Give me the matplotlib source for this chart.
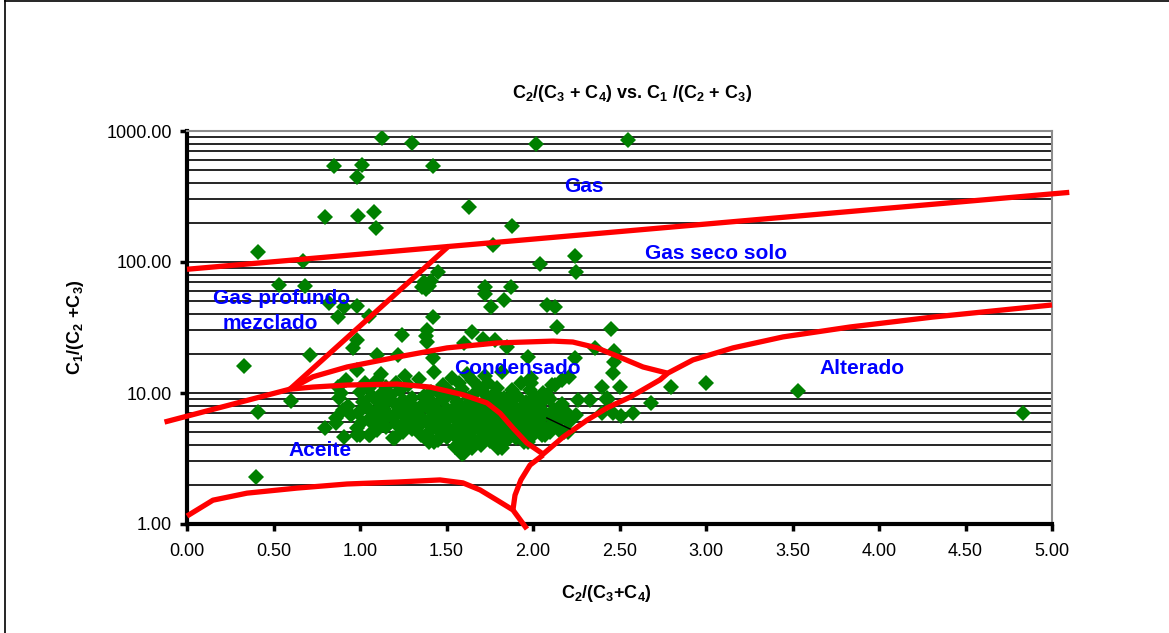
import matplotlib.pyplot as plt
from matplotlib.ticker import LogLocator, FormatStrFormatter, MultipleLocator
from matplotlib.lines import Line2D

plt.rcParams['font.family'] = ['Liberation Sans', 'DejaVu Sans']
plt.rcParams['mathtext.fontset'] = 'custom'
plt.rcParams['mathtext.rm'] = 'Liberation Sans'
plt.rcParams['mathtext.bf'] = 'Liberation Sans:bold'

# samples: C2/(C3+C4) vs C1/(C2+C3)
# scattered samples
x_ratio = [1.13, 1.30, 2.02, 2.55, 0.85, 1.01, 0.98, 1.42, 0.80, 0.99, 1.08, 1.09, 1.63, 1.88,
           0.41, 0.67, 1.77, 2.24, 2.25, 2.04, 1.45, 0.53, 0.68, 1.37, 1.40, 1.38, 1.41, 1.36,
           1.72, 1.72, 1.87, 1.83, 1.76, 2.08, 2.13, 0.82, 0.87, 0.91, 0.71, 0.33, 0.98, 1.05,
           1.42, 1.39, 1.39, 1.38, 1.24, 0.98, 0.96, 1.65, 1.71, 1.78, 1.60, 1.85, 1.10, 1.22,
           1.42, 0.98, 2.14, 2.45, 2.36, 2.47, 1.97, 2.24, 2.47, 2.46, 1.99, 2.21, 2.17, 2.40,
           2.50, 2.80, 3.00, 3.53, 4.83, 2.43, 2.68, 2.51, 2.58, 2.46, 2.40, 0.60, 0.41, 0.40,
           0.80, 0.86, 0.91, 0.90, 0.88, 0.87, 1.82, 1.59, 1.19, 1.06, 0.98, 1.43, 1.50, 1.56,
           1.99, 2.13, 2.26, 2.33, 2.43, 2.25, 1.97, 2.08, 2.12, 1.94, 2.07, 2.18, 1.97]
y_ratio = [880, 810, 800, 850, 540, 550, 445, 545, 220, 225, 240, 182, 262, 188,
           119, 102, 135, 111, 84, 97, 84, 67, 66, 70, 66, 62, 72, 64,
           64, 57, 64, 51, 45, 47, 45, 49, 38, 45, 19.5, 16, 46, 39,
           38, 30, 24.5, 27, 27.7, 25.5, 22, 29, 26, 25.4, 24, 22.4, 19.5, 19.5,
           18.5, 15, 32, 31, 22, 21, 18.8, 18.5, 17.2, 14.2, 13, 13.3, 12.6, 11.1,
           11.1, 11.1, 11.9, 10.4, 7.0, 9.2, 8.4, 6.7, 7.0, 7.0, 7.0, 8.7, 7.2, 2.28,
           5.4, 5.9, 4.6, 7.4, 9.2, 11.1, 3.8, 3.4, 4.5, 4.8, 4.8, 4.2, 4.6, 3.9,
           11.9, 11.5, 8.8, 8.8, 8.8, 6.8, 8.4, 9.6, 7.4, 5.9, 4.8, 5.0, 4.2]

# dense cluster
x_cluster = [0.86, 0.93, 0.89, 0.95, 0.92,
             1.00, 1.01, 0.99, 1.02, 1.00, 1.03, 0.98,
             1.05, 1.06, 1.04, 1.07, 1.05, 1.08,
             1.10, 1.12, 1.09, 1.11, 1.13, 1.10, 1.12,
             1.15, 1.16, 1.14, 1.17, 1.15,
             1.20, 1.21, 1.19, 1.22, 1.20, 1.18, 1.21,
             1.25, 1.26, 1.24, 1.27, 1.25, 1.23, 1.26,
             1.30, 1.31, 1.29, 1.32, 1.30, 1.28,
             1.35, 1.34, 1.36, 1.33, 1.35, 1.37, 1.34,
             1.40, 1.41, 1.39, 1.42, 1.40, 1.38, 1.41, 1.43,
             1.45, 1.46, 1.44, 1.47, 1.45, 1.43, 1.46, 1.48,
             1.50, 1.51, 1.49, 1.52, 1.50, 1.48, 1.51, 1.53,
             1.55, 1.56, 1.54, 1.57, 1.55, 1.53, 1.56, 1.54, 1.57,
             1.60, 1.61, 1.59, 1.62, 1.60, 1.58, 1.61, 1.63, 1.59, 1.62,
             1.65, 1.66, 1.64, 1.67, 1.65, 1.63, 1.66, 1.64, 1.67, 1.65,
             1.70, 1.71, 1.69, 1.72, 1.70, 1.68, 1.71, 1.73, 1.69, 1.72,
             1.75, 1.76, 1.74, 1.77, 1.75, 1.73, 1.76, 1.78, 1.74,
             1.80, 1.81, 1.79, 1.82, 1.80, 1.78, 1.81, 1.83, 1.79, 1.82,
             1.85, 1.86, 1.84, 1.87, 1.85, 1.83, 1.86, 1.88,
             1.90, 1.91, 1.89, 1.92, 1.90, 1.88, 1.91, 1.93,
             1.95, 1.96, 1.94, 1.97, 1.95, 1.93, 1.96, 1.98,
             2.00, 2.01, 1.99, 2.02, 2.00, 2.03, 2.01,
             2.05, 2.06, 2.04, 2.07, 2.05, 2.06,
             2.10, 2.11, 2.09, 2.12, 2.10, 2.11,
             2.15, 2.16, 2.14, 2.17,
             2.20, 2.21, 2.19]
y_cluster = [6.5, 8.0, 10.0, 6.8, 12.5,
             4.8, 6.0, 7.0, 8.5, 10.2, 12.0, 5.4,
             4.8, 6.5, 7.8, 9.5, 11.0, 5.7,
             5.2, 6.2, 7.2, 8.4, 10.0, 12.5, 14.0,
             5.5, 6.8, 7.6, 9.0, 11.2,
             4.5, 5.8, 6.5, 7.3, 8.2, 9.6, 12.0,
             5.0, 6.0, 6.9, 7.8, 8.8, 10.5, 13.5,
             5.3, 6.2, 7.0, 7.7, 9.2, 11.5,
             4.8, 5.6, 6.4, 7.2, 8.0, 9.5, 12.8,
             4.2, 5.2, 6.0, 6.7, 7.5, 8.6, 10.2, 14.5,
             4.4, 5.0, 5.8, 6.5, 7.3, 8.3, 9.8, 11.5,
             4.6, 5.3, 6.0, 6.8, 7.6, 8.8, 10.5, 13.0,
             3.9, 4.5, 5.2, 5.9, 6.6, 7.4, 8.5, 9.6, 12.0,
             3.5, 4.2, 4.9, 5.6, 6.3, 7.0, 8.0, 9.2, 10.8, 14.0,
             3.8, 4.4, 5.0, 5.5, 6.1, 6.8, 7.7, 8.9, 10.2, 12.5,
             4.0, 4.7, 5.3, 5.9, 6.5, 7.3, 8.4, 9.6, 11.2, 13.5,
             4.3, 4.9, 5.4, 6.0, 6.7, 7.6, 8.8, 10.0, 12.0,
             3.8, 4.6, 5.2, 5.8, 6.4, 7.1, 8.0, 9.2, 11.0, 14.5,
             4.4, 5.0, 5.6, 6.2, 6.9, 7.8, 9.0, 10.5,
             4.5, 5.1, 5.7, 6.3, 7.0, 8.2, 9.5, 12.0,
             4.2, 5.0, 5.5, 6.1, 6.8, 7.5, 8.5, 10.5,
             4.8, 5.3, 5.8, 6.5, 7.2, 8.0, 9.4,
             4.8, 5.5, 6.2, 7.0, 8.6, 10.0,
             5.0, 5.8, 6.8, 7.4, 9.0, 11.5,
             5.2, 6.3, 7.0, 8.2,
             5.0, 6.0, 7.2]

# boundary lines of the classification diagram
gas_x = [0.0, 5.1]
gas_y = [88, 340]
diag_x = [0.595, 1.515]
diag_y = [10.7, 133]
low_x = [-0.13, 0.595]
low_y = [6.0, 10.7]
cond_top_x = [0.595, 0.728, 0.925, 1.214, 1.503, 1.792, 2.116, 2.23, 2.37, 2.50, 2.636, 2.775]
cond_top_y = [10.7, 13.3, 15.8, 18.8, 22.1, 24.1, 24.9, 24.5, 22.1, 18.8, 15.8, 14.2]
cond_bot_x = [0.595, 0.728, 0.925, 1.214, 1.405, 1.595, 1.734, 1.81, 1.884, 1.965, 2.058]
cond_bot_y = [10.7, 11.1, 11.5, 11.7, 11.1, 9.7, 8.4, 7.0, 5.4, 4.15, 3.42]
alt_x = [2.052, 2.173, 2.312, 2.428, 2.561, 2.734, 2.78, 2.925, 3.156, 3.445, 3.832, 4.312, 5.0]
alt_y = [3.36, 4.6, 6.2, 7.7, 9.3, 12.6, 14.2, 17.9, 22.1, 26.8, 31.9, 38, 47]
vert_x = [2.058, 1.983, 1.93, 1.896, 1.884]
vert_y = [3.36, 2.82, 2.17, 1.66, 1.28]
oil_x = [0.0, 0.15, 0.347, 0.636, 0.925, 1.214, 1.462, 1.595, 1.694, 1.792, 1.884, 1.965]
oil_y = [1.15, 1.52, 1.72, 1.88, 2.02, 2.09, 2.17, 2.06, 1.82, 1.52, 1.28, 0.916]
seg_x = [2.08, 2.214]
seg_y = [6.45, 5.31]

zones = ['Gas', 'Gas seco solo', 'Gas profundo', 'mezclado', 'Condensado', 'Alterado', 'Aceite']
zone_x = [2.295, 3.06, 0.549, 0.48, 1.908, 3.90, 0.769]
zone_y = [380, 117, 53, 34.2, 15.5, 15.5, 3.67]

fig = plt.figure(figsize=(11.69, 6.33), dpi=100)
ax = fig.add_axes([187/1169, 1-524/633, (1052-187)/1169, (524-131)/633])

ax.set_yscale('log')
ax.set_xlim(0, 5)
ax.set_ylim(1, 1000)

ax.plot(x_ratio, y_ratio, 'D', color='#008000', ms=8.2, mew=0, zorder=3)
ax.plot(x_cluster, y_cluster, 'D', color='#008000', ms=8.2, mew=0, zorder=3)

red = '#ff0000'
for bx, by in [(gas_x, gas_y), (diag_x, diag_y), (low_x, low_y), (cond_top_x, cond_top_y),
               (cond_bot_x, cond_bot_y), (alt_x, alt_y), (vert_x, vert_y), (oil_x, oil_y)]:
    ax.plot(bx, by, color=red, lw=3.8, solid_capstyle='butt', solid_joinstyle='round',
            clip_on=False, zorder=4)
ax.plot(seg_x, seg_y, color='black', lw=1, zorder=4)

for t, tx, ty in zip(zones, zone_x, zone_y):
    ax.text(tx, ty, t, color='#0000ff', fontsize=15, fontweight='bold',
            ha='center', va='center', zorder=5)

ax.xaxis.set_major_locator(MultipleLocator(0.5))
ax.xaxis.set_major_formatter(FormatStrFormatter('%.2f'))
ax.yaxis.set_major_locator(LogLocator(base=10))
ax.yaxis.set_minor_locator(LogLocator(base=10, subs=range(2, 10)))
ax.yaxis.set_major_formatter(FormatStrFormatter('%.2f'))
ax.yaxis.set_minor_formatter(FormatStrFormatter(''))
ax.tick_params(axis='both', which='major', direction='out', length=5, width=2.5,
               labelsize=13)
ax.tick_params(axis='x', which='major', pad=9)
ax.tick_params(axis='y', which='minor', length=0)
ax.tick_params(axis='y', which='major', pad=6)
ax.grid(True, which='both', axis='y', color='black', lw=1.2)
ax.set_axisbelow(True)

for s in ['left', 'bottom']:
    ax.spines[s].set_linewidth(3)
    ax.spines[s].set_color('black')
for s in ['top', 'right']:
    ax.spines[s].set_linewidth(1.5)
    ax.spines[s].set_color('#8c8c8c')

fig.text(632/1169, 1-93/633,
         r'C$_\mathbf{2}$/(C$_\mathbf{3}$ + C$_\mathbf{4}$) vs. C$_\mathbf{1}$ /(C$_\mathbf{2}$ + C$_\mathbf{3}$)',
         ha='center', va='center', fontsize=13, fontweight='bold')
fig.text(606/1169, 1-593/633, r'C$_\mathbf{2}$/(C$_\mathbf{3}$+C$_\mathbf{4}$)',
         ha='center', va='center', fontsize=13, fontweight='bold')
fig.text(75/1169, 1-327/633, r'C$_\mathbf{1}$/(C$_\mathbf{2}$ +C$_\mathbf{3}$)',
         ha='center', va='center', fontsize=13, fontweight='bold', rotation=90)

fig.add_artist(Line2D([5/1169, 5/1169], [0, 1], color='black', lw=1.2))
fig.add_artist(Line2D([5/1169, 1], [1-1/633, 1-1/633], color='black', lw=1.2))

fig.savefig('out.png', dpi=100)
